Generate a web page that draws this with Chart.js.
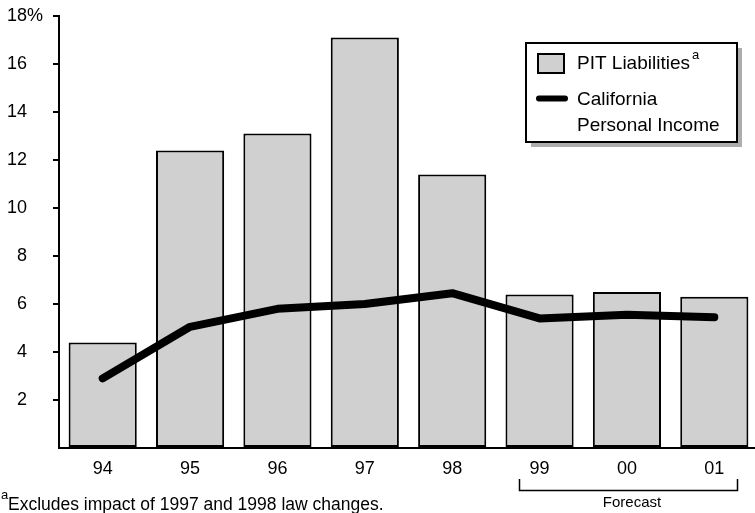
<!DOCTYPE html>
<html>
<head>
<meta charset="utf-8">
<script src="https://cdn.jsdelivr.net/npm/chart.js@4"></script>
<style>
  html, body { margin: 0; padding: 0; background: #fff; overflow: hidden; }
  #wrap { width: 760px; height: 513px; }
</style>
</head>
<body>
<div id="wrap"><canvas id="pitChart"></canvas></div>
<script>
// PIT liabilities vs California personal income, annual % change

const years = ['94', '95', '96', '97', '98', '99', '00', '01']
const pitLiabilities = [4.4, 12.4, 13.1, 17.1, 11.4, 6.4, 6.5, 6.3]
const personalIncome = [2.9, 5.05, 5.8, 6.0, 6.45, 5.4, 5.55, 5.45]
const yTicks = [0, 2, 4, 6, 8, 10, 12, 14, 16, 18]

const FONT = '"Liberation Sans", Arial, Helvetica, sans-serif'

// legend box, footnote and forecast bracket drawn on top
const extras = {
  id: 'extras',
  afterDraw(chart) {
    const c = chart.ctx
    c.save()

    // legend shadow + box
    c.fillStyle = '#adadad'
    c.fillRect(531, 48, 211, 99)
    c.fillStyle = '#fff'
    c.fillRect(526, 43, 211, 99)
    c.strokeStyle = '#000'
    c.lineWidth = 2
    c.strokeRect(526, 43, 211, 99)

    // bar swatch
    c.fillStyle = '#d0d0d0'
    c.fillRect(538, 54, 26, 19)
    c.strokeRect(538, 54, 26, 19)

    // line swatch
    c.lineWidth = 6
    c.lineCap = 'round'
    c.beginPath()
    c.moveTo(539, 98.5)
    c.lineTo(565, 98.5)
    c.stroke()

    c.fillStyle = '#000'
    c.textBaseline = 'alphabetic'
    c.textAlign = 'left'
    c.font = '19px ' + FONT
    c.fillText('PIT Liabilities', 577, 69)
    const w = c.measureText('PIT Liabilities').width
    c.font = '13px ' + FONT
    c.fillText('a', 577 + w + 2, 59)
    c.font = '19px ' + FONT
    c.fillText('California', 577, 105)
    c.fillText('Personal Income', 577, 131)

    // footnote
    c.font = '13px ' + FONT
    c.fillText('a', 1, 499)
    c.font = '17.5px ' + FONT
    c.fillText('Excludes impact of 1997 and 1998 law changes.', 8, 510)

    // forecast bracket
    c.lineWidth = 1.5
    c.lineCap = 'butt'
    c.beginPath()
    c.moveTo(519.5, 479)
    c.lineTo(519.5, 490.5)
    c.lineTo(737.5, 490.5)
    c.lineTo(737.5, 479)
    c.stroke()
    c.font = '15px ' + FONT
    c.textAlign = 'center'
    c.fillText('Forecast', 632, 507)

    c.restore()
  }
}

const ctx = document.getElementById('pitChart').getContext('2d')

const pitChart = new Chart(ctx, {
  type: 'bar',
  data: {
    labels: years,
    datasets: [
      {
        type: 'line',
        label: 'California Personal Income',
        data: personalIncome,
        borderColor: '#000',
        borderWidth: 8,
        borderCapStyle: 'round',
        borderJoinStyle: 'round',
        pointRadius: 0,
        tension: 0,
        order: 0
      },
      {
        label: 'PIT Liabilities',
        data: pitLiabilities,
        backgroundColor: '#d0d0d0',
        borderColor: '#000',
        borderWidth: 2,
        borderSkipped: false,
        barPercentage: 0.78,
        categoryPercentage: 1,
        order: 1
      }
    ]
  },
  options: {
    responsive: true,
    maintainAspectRatio: false,
    animation: false,
    layout: { padding: { top: 16, right: 2, left: 7, bottom: 0 } },
    plugins: {
      legend: { display: false },
      tooltip: { enabled: false }
    },
    scales: {
      x: {
        grid: { display: false, drawTicks: false },
        border: { display: true, color: '#000', width: 2 },
        ticks: {
          color: '#000',
          padding: 10,
          font: { family: FONT, size: 18 }
        },
        afterFit: s => { s.height = 65 }
      },
      y: {
        min: 0,
        max: 18,
        afterBuildTicks: s => { s.ticks = yTicks.map(v => ({ value: v })) },
        grid: {
          drawOnChartArea: false,
          drawTicks: true,
          tickLength: 6,
          lineWidth: 2,
          color: c => (c.tick && c.tick.value === 0) ? 'rgba(0,0,0,0)' : '#000'
        },
        border: { display: true, color: '#000', width: 2 },
        ticks: {
          color: '#000',
          crossAlign: 'far',
          font: { family: FONT, size: 18 },
          callback: v => v === 0 ? '' : (v === 18 ? '18%' : (v < 10 ? '\u2007' + v : String(v)))
        },
        afterFit: s => { s.width = 52 }
      }
    }
  },
  plugins: [extras]
})
</script>
</body>
</html>
